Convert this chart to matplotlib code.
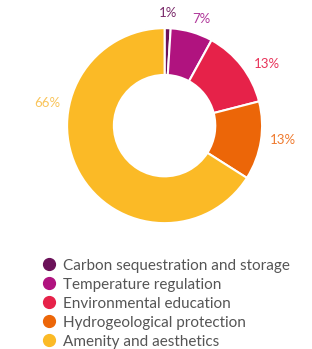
import numpy as np
import matplotlib
matplotlib.use("Agg")
import matplotlib.pyplot as plt
from matplotlib.lines import Line2D

plt.rcParams['font.family'] = ['Lato', 'DejaVu Sans']

# data
categories = ['Carbon sequestration and storage', 'Temperature regulation',
              'Environmental education', 'Hydrogeological protection',
              'Amenity and aesthetics']
shares = [1, 7, 13, 13, 66]
colors = ['#6b1259', '#b0137f', '#e62249', '#ec6608', '#fbba26']
label_colors = ['#7a2a6a', '#b0379a', '#e8345a', '#ef7a2e', '#f9c45a']

fig = plt.figure(figsize=(3.12, 3.49), dpi=100)
ax = fig.add_axes([0.215, 0.36, 0.625, 0.56])

wedges, _ = ax.pie(shares, colors=colors, startangle=90, counterclock=False,
                   radius=1.0,
                   wedgeprops=dict(width=0.48, edgecolor='white', linewidth=1.5))
ax.set_aspect('equal')
ax.set_xlim(-1.0, 1.0)
ax.set_ylim(-1.0, 1.0)

# percentage labels outside the ring (placed like the original layout)
label_ang = [88, 71, 31, -7, 169]
label_r = [1.16, 1.16, 1.23, 1.22, 1.23]
for i, v in enumerate(shares):
    a = np.deg2rad(label_ang[i])
    ax.text(label_r[i] * np.cos(a), label_r[i] * np.sin(a), f'{v}%',
            ha='center', va='center', fontsize=9.5, color=label_colors[i],
            clip_on=False)

# legend
handles = [Line2D([0], [0], marker='o', linestyle='', markersize=8.5,
                  markerfacecolor=c, markeredgecolor=c) for c in colors]
fig.legend(handles, categories, loc='center left', bbox_to_anchor=(0.112, 0.13),
           frameon=False, fontsize=11, labelcolor='#555555',
           handletextpad=0.45, labelspacing=0.33, borderpad=0, handlelength=0.9)

fig.savefig('out.png', dpi=100)
